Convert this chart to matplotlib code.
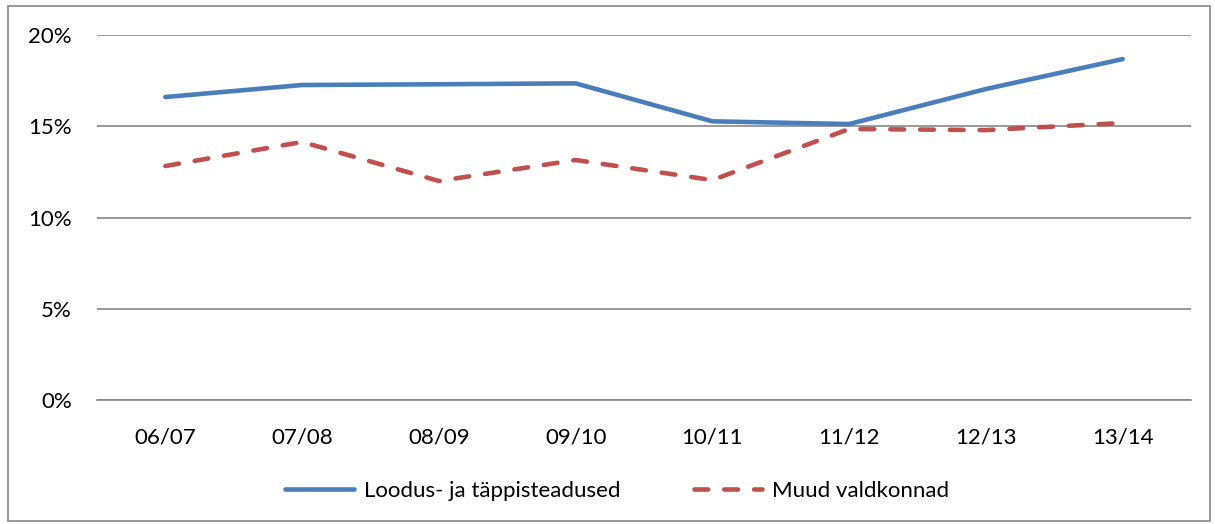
import matplotlib
matplotlib.use("Agg")
import matplotlib.pyplot as plt
from matplotlib.patches import Rectangle
from matplotlib.ticker import FuncFormatter

plt.rcParams['font.family'] = ['Lato', 'DejaVu Sans']

categories = ["06/07", "07/08", "08/09", "09/10", "10/11", "11/12", "12/13", "13/14"]
loodus = [16.6, 17.26, 17.3, 17.35, 15.27, 15.12, 17.04, 18.68]
muud = [12.82, 14.14, 12.0, 13.15, 12.05, 14.85, 14.79, 15.18]
series_names = ["Loodus- ja täppisteadused", "Muud valdkonnad"]

fig = plt.figure(figsize=(12.15, 5.24), dpi=100)
ax = fig.add_axes([97/1215, 1-400/524, (1191-97)/1215, (400-35)/524])

x = list(range(len(categories)))
ax.plot(x, loodus, color="#4a7ebb", lw=3.3, solid_capstyle="round", solid_joinstyle="round",
        label=series_names[0])
ax.plot(x, muud, color="#c0504d", lw=3.3, dashes=(3.0, 3.5), dash_capstyle="round",
        label=series_names[1])

ax.set_xlim(-0.5, len(categories) - 0.5)
ax.set_ylim(0, 20)
ax.set_yticks([0, 5, 10, 15, 20])
ax.yaxis.set_major_formatter(FuncFormatter(lambda v, p: f"{int(v)}%"))
ax.set_xticks(x)
ax.set_xticklabels(categories)
ax.grid(axis="y", color="#888888", lw=1.2)
ax.set_axisbelow(True)
for s in ["top", "right", "left"]:
    ax.spines[s].set_visible(False)
ax.spines["bottom"].set_color("#888888")
ax.spines["bottom"].set_linewidth(1.2)
ax.tick_params(axis="both", length=0, labelsize=16, colors="black")
ax.tick_params(axis="y", pad=18)
ax.tick_params(axis="x", pad=20)

leg = fig.legend(loc="center", bbox_to_anchor=(0.508, 1-491/524), ncol=2, frameon=False,
                 fontsize=16, handlelength=3.1, handletextpad=0.45, columnspacing=3.3)

fig.patches.append(Rectangle((8/1215, 1-521/524), (1210-8)/1215, (521-6)/524,
                             transform=fig.transFigure, fill=False, edgecolor="#888888", lw=1.2))

fig.savefig("out.png", dpi=100)
